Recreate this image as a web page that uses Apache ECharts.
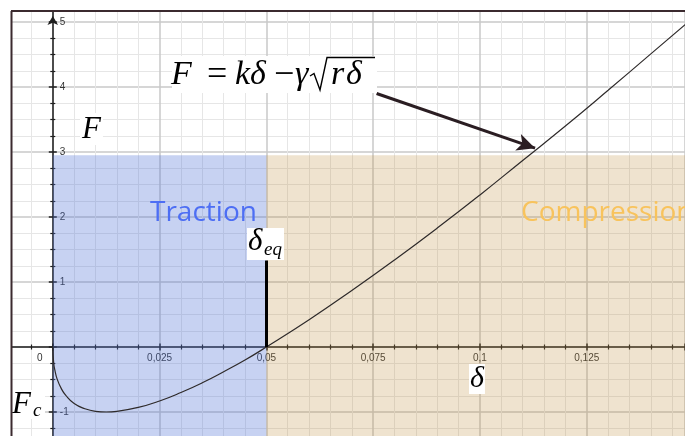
<!DOCTYPE html>
<html>
<head>
<meta charset="utf-8">
<script src="https://cdn.jsdelivr.net/npm/echarts@6/dist/echarts.min.js"></script>
<style>
  html, body { margin: 0; padding: 0; background: #fff; }
  #chart { width: 685px; height: 436px; }
</style>
</head>
<body>
<div id="chart"></div>
<script>
// Contact force F against indentation delta: F = k*delta - gamma*sqrt(r*delta)
const deltaValues = [0, 0.0002, 0.0005, 0.001, 0.002, 0.003, 0.005, 0.0075, 0.01, 0.0125, 0.015, 0.02, 0.025, 0.03, 0.035, 0.04, 0.045, 0.05, 0.06, 0.07, 0.08, 0.09, 0.1, 0.11, 0.12, 0.13, 0.14, 0.15];
const forceValues = [0, -0.24, -0.36, -0.49, -0.64, -0.74, -0.87, -0.95, -0.99, -1.0, -0.99, -0.93, -0.83, -0.70, -0.55, -0.38, -0.20, 0, 0.42, 0.87, 1.34, 1.83, 2.34, 2.87, 3.40, 3.95, 4.51, 5.07];

// Equilibrium indentation and the height of its marker
const deltaEq = 0.05;
const eqMarkerTop = 1.33;
// Upper bound of the shaded traction / compression zones
const zoneTop = 2.95;
// Arrow from the formula to the curve: [delta, F] tail and head
const arrowTail = [0.0758, 3.9];
const arrowHead = [0.1129, 3.06];

const curve = deltaValues.map((d, i) => [d, forceValues[i]]);

const fmtX = v => {
  const r = +v.toFixed(4);
  if (r === 0) return '{z|0}';
  if (r > 0 && r < 0.14 && Math.abs(r / 0.025 - Math.round(r / 0.025)) < 1e-6) return String(r).replace('.', ',');
  return '';
};
const fmtY = v => {
  const r = Math.round(v * 1000) / 1000;
  if (r === 0 || r !== Math.round(r) || r > 5 || r < -1) return '';
  return String(r);
};

const axisCol = '#1e1e1e';
const labelFont = '"Liberation Sans", sans-serif';
const mathItalic = size => 'italic ' + size + 'px "Liberation Serif", serif';
const mathUpright = size => size + 'px "Liberation Serif", serif';

// Scale shared by all x axes / all y axes
const xScale = { type: 'value', min: -0.025, max: 0.148, interval: 0.025 };
const yScale = { type: 'value', min: -2, max: 5.17, interval: 1 };

const tickX = {
  minorTick: { show: true, splitNumber: 5, length: 2.5, lineStyle: { color: axisCol, width: 1.2 } },
  axisTick: { show: true, length: 3.5, lineStyle: { color: axisCol, width: 1.5 } }
};
const tickY = {
  minorTick: { show: true, splitNumber: 4, length: 2.5, lineStyle: { color: axisCol, width: 1.2 } },
  axisTick: { show: true, length: 4, lineStyle: { color: axisCol, width: 1.5 } }
};
const noLabels = { axisLabel: { show: false } };
const majorGrid = { show: true, lineStyle: { color: '#c9c9c9', width: 1.5 } };
const minorGrid = { show: true, lineStyle: { color: '#e6e6e6', width: 1 } };

const option = {
  animation: false,
  backgroundColor: '#ffffff',
  grid: { left: -54, right: 0, top: 11, bottom: -41, containLabel: false, outerBoundsMode: 'none' },
  xAxis: [
    // axis line through F = 0, ticks below it, grid lines
    Object.assign({}, xScale, tickX, noLabels, {
      position: 'bottom',
      axisLine: { onZero: true, onZeroAxisIndex: 0, lineStyle: { color: axisCol, width: 1.5 } },
      splitLine: majorGrid, minorSplitLine: minorGrid
    }),
    // ticks above the line
    Object.assign({}, xScale, tickX, noLabels, {
      position: 'top',
      axisLine: { show: false, onZero: true, onZeroAxisIndex: 0 },
      splitLine: { show: false }
    }),
    // tick labels, shifted up to the F = 0 line
    Object.assign({}, xScale, {
      position: 'bottom', offset: -129.9,
      axisLine: { show: false, onZero: false },
      axisTick: { show: false }, splitLine: { show: false },
      axisLabel: {
        margin: 6, fontSize: 10, color: '#333', fontFamily: labelFont,
        formatter: fmtX, rich: { z: { fontSize: 10, color: '#333', fontFamily: labelFont, padding: [0, 26, 0, 0] } }
      }
    })
  ],
  yAxis: [
    Object.assign({}, yScale, tickY, noLabels, {
      position: 'left',
      axisLine: {
        onZero: true, onZeroAxisIndex: 0, lineStyle: { color: axisCol, width: 1.5 },
        symbol: ['none', 'arrow'], symbolSize: [8, 9], symbolOffset: [0, -5]
      },
      splitLine: majorGrid, minorSplitLine: minorGrid
    }),
    Object.assign({}, yScale, tickY, noLabels, {
      position: 'right',
      axisLine: { show: false, onZero: true, onZeroAxisIndex: 0 },
      splitLine: { show: false }
    }),
    Object.assign({}, yScale, {
      position: 'left', offset: -106.8,
      axisLine: { show: false, onZero: false },
      axisTick: { show: false }, splitLine: { show: false },
      axisLabel: { inside: true, margin: 7, fontSize: 10, color: '#333', fontFamily: labelFont, formatter: fmtY }
    })
  ],
  series: [{
    type: 'line',
    xAxisIndex: 0, yAxisIndex: 0,
    data: curve,
    smooth: 0.5,
    showSymbol: false,
    clip: true,
    lineStyle: { color: '#2e2a2a', width: 1.2 },
    z: 4,
    markArea: {
      silent: true,
      data: [
        [{ coord: [0, zoneTop], itemStyle: { color: 'rgba(80,115,215,0.32)' } }, { coord: [deltaEq, -2] }],
        [{ coord: [deltaEq, zoneTop], itemStyle: { color: 'rgba(191,143,63,0.25)' } }, { coord: [0.148, -2] }]
      ]
    },
    markLine: {
      silent: true,
      symbol: 'none',
      label: { show: false },
      data: [
        [{ coord: [deltaEq, 0], lineStyle: { color: '#000', width: 3, type: 'solid' } }, { coord: [deltaEq, eqMarkerTop] }],
        [{ coord: arrowTail, symbol: 'none', lineStyle: { color: '#2a1d22', width: 3, type: 'solid' } },
         { coord: arrowHead, symbol: 'arrow', symbolSize: [13, 18] }]
      ]
    }
  }],
  graphic: [
    // frame
    { type: 'rect', z: 50, shape: { x: 0, y: 0, width: 11, height: 436 }, style: { fill: '#fff' } },
    { type: 'line', z: 51, shape: { x1: 11.5, y1: 11, x2: 11.5, y2: 436 }, style: { stroke: '#3b2a2f', lineWidth: 2 } },
    { type: 'line', z: 51, shape: { x1: 11, y1: 11, x2: 685, y2: 11 }, style: { stroke: '#3b2a2f', lineWidth: 2 } },
    // zone titles
    { type: 'text', z: 40, style: { text: 'Traction', x: 150, y: 213, verticalAlign: 'middle', font: '28px "Open Sans", sans-serif', fill: '#4d6ef4' } },
    { type: 'text', z: 40, style: { text: 'Compression', x: 521, y: 213, verticalAlign: 'middle', font: '28px "Open Sans", sans-serif', fill: '#f8c35c' } },
    // formula  F = kδ − γ√(rδ)
    { type: 'rect', z: 40, shape: { x: 172, y: 56, width: 205, height: 37 }, style: { fill: '#fff' } },
    { type: 'text', z: 41, style: { text: 'F', x: 171, y: 75, verticalAlign: 'middle', font: mathItalic(34), fill: '#000' } },
    { type: 'text', z: 41, style: { text: '=', x: 207, y: 76, verticalAlign: 'middle', font: mathUpright(36), fill: '#000' } },
    { type: 'text', z: 41, style: { text: 'kδ', x: 235, y: 75, verticalAlign: 'middle', font: mathItalic(34), fill: '#000' } },
    { type: 'text', z: 41, style: { text: '−', x: 274, y: 76, verticalAlign: 'middle', font: mathUpright(36), fill: '#000' } },
    { type: 'text', z: 41, style: { text: 'γ', x: 295, y: 75, verticalAlign: 'middle', font: mathItalic(34), fill: '#000' } },
    { type: 'polyline', z: 41, shape: { points: [[310, 76], [314, 73.5], [320, 90], [327, 57.5], [375, 57.5]] }, style: { stroke: '#000', lineWidth: 1.4, fill: null } },
    { type: 'text', z: 41, style: { text: 'r', x: 331, y: 75, verticalAlign: 'middle', font: mathItalic(34), fill: '#000' } },
    { type: 'text', z: 41, style: { text: 'δ', x: 346, y: 75, verticalAlign: 'middle', font: mathItalic(34), fill: '#000' } },
    // axis names
    { type: 'text', z: 41, style: { text: 'F', x: 80, y: 113, font: mathItalic(31), fill: '#000', backgroundColor: '#fff', padding: [1, 2, 0, 2] } },
    { type: 'text', z: 41, style: { text: 'δ', x: 469, y: 364, font: mathItalic(30), fill: '#000', backgroundColor: '#fff', padding: [0, 1, 0, 1] } },
    // F_c
    { type: 'rect', z: 40, shape: { x: 12, y: 390, width: 33, height: 29 }, style: { fill: '#fff' } },
    { type: 'text', z: 41, style: { text: 'F', x: 12, y: 389, font: mathItalic(31), fill: '#000' } },
    { type: 'text', z: 41, style: { text: 'c', x: 33, y: 401, font: mathItalic(19), fill: '#000' } },
    // delta_eq
    { type: 'rect', z: 40, shape: { x: 247, y: 228, width: 37, height: 32 }, style: { fill: '#fff' } },
    { type: 'text', z: 41, style: { text: 'δ', x: 248, y: 226, font: mathItalic(31), fill: '#000' } },
    { type: 'text', z: 41, style: { text: 'eq', x: 264, y: 240, font: mathItalic(19), fill: '#000' } }
  ]
};

const chart = echarts.init(document.getElementById('chart'), null, { renderer: 'canvas' });
chart.setOption(option);
</script>
</body>
</html>
